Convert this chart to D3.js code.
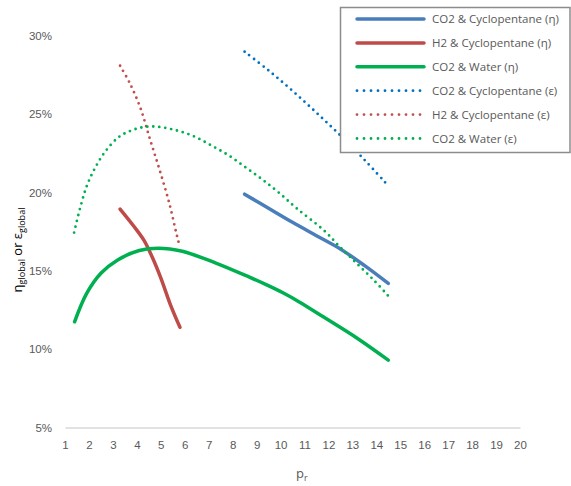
<!DOCTYPE html>
<html>
<head>
<meta charset="utf-8">
<script src="https://cdn.jsdelivr.net/npm/d3@7"></script>
<style>
  body { margin: 0; background: #fff; }
  svg { font-family: "Open Sans", "Liberation Sans", sans-serif; }
  .tick text { fill: #595959; font-size: 11.5px; }
</style>
</head>
<body>
<svg width="571" height="486"></svg>
<script>
// CO2 & Cyclopentane
const co2CpEtaX = [8.5, 9.5, 10.5, 11.5, 12.5, 13.5, 14.5]
const co2CpEtaY = [19.9, 19.0, 18.1, 17.25, 16.4, 15.35, 14.2]
const co2CpEpsX = [8.5, 9.5, 10.5, 11.5, 12.5, 13.5, 14.4]
const co2CpEpsY = [29.0, 27.8, 26.5, 25.1, 23.65, 22.1, 20.6]
// H2 & Cyclopentane
const h2CpEtaX = [3.3, 3.85, 4.3, 4.65, 5.0, 5.4, 5.8]
const h2CpEtaY = [18.95, 17.9, 16.95, 15.85, 14.55, 12.85, 11.4]
const h2CpEpsX = [3.3, 3.7, 4.15, 4.55, 4.95, 5.35, 5.65, 5.75]
const h2CpEpsY = [28.1, 27.0, 25.4, 23.4, 21.45, 19.35, 17.4, 16.8]
// CO2 & Water
const co2WEtaX = [1.4, 1.9, 2.5, 3.2, 4.1, 4.9, 5.9, 7.3, 8.7, 9.4, 10.1, 10.8, 11.8, 13.2, 14.5]
const co2WEtaY = [11.75, 13.55, 14.85, 15.7, 16.3, 16.45, 16.25, 15.5, 14.6, 14.12, 13.6, 13.0, 12.05, 10.7, 9.3]
const co2WEpsX = [1.38, 1.63, 1.9, 2.23, 2.67, 3.23, 3.71, 4.24, 4.83, 5.59, 6.36, 7.12, 7.85, 8.54, 9.21, 9.88, 10.67, 11.8, 12.5, 13.2, 13.9, 14.5]
const co2WEpsY = [17.45, 19.0, 20.38, 21.5, 22.6, 23.53, 23.93, 24.17, 24.21, 24.0, 23.61, 23.0, 22.36, 21.61, 20.87, 20.06, 19.0, 17.6, 16.5, 15.45, 14.4, 13.4]

const xTicks = d3.range(1, 21)
const yTicks = [5, 10, 15, 20, 25, 30]

const series = [
  {name: "CO2 & Cyclopentane (η)", xs: co2CpEtaX, ys: co2CpEtaY, color: "#4a7ebb", dotted: false},
  {name: "H2 & Cyclopentane (η)", xs: h2CpEtaX, ys: h2CpEtaY, color: "#be4b48", dotted: false},
  {name: "CO2 & Water (η)", xs: co2WEtaX, ys: co2WEtaY, color: "#00b050", dotted: false},
  {name: "CO2 & Cyclopentane (ε)", xs: co2CpEpsX, ys: co2CpEpsY, color: "#0070c0", dotted: true},
  {name: "H2 & Cyclopentane (ε)", xs: h2CpEpsX, ys: h2CpEpsY, color: "#c0504d", dotted: true},
  {name: "CO2 & Water (ε)", xs: co2WEpsX, ys: co2WEpsY, color: "#00b050", dotted: true}
]

const svg = d3.select("svg")
const x = d3.scaleLinear().domain([1, 20]).range([65, 520])
const y = d3.scaleLinear().domain([5, 30]).range([427.5, 36])

// x axis
const xAxis = svg.append("g")
  .attr("transform", "translate(0," + y(5) + ")")
  .call(d3.axisBottom(x).tickValues(xTicks).tickSize(0).tickPadding(13).tickFormat(d3.format("d")))
xAxis.select(".domain").attr("stroke", "#d9d9d9").attr("stroke-width", 1.5)

// y axis (labels only)
const yAxis = svg.append("g")
  .attr("transform", "translate(" + 58 + ",0)")
  .call(d3.axisLeft(y).tickValues(yTicks).tickSize(0).tickPadding(6).tickFormat(d => d + "%"))
yAxis.select(".domain").remove()

const line = d3.line()
  .x(d => x(d[0]))
  .y(d => y(d[1]))
  .curve(d3.curveCatmullRom.alpha(0.5))

svg.append("g").selectAll("path")
  .data(series)
  .enter().append("path")
  .attr("d", s => line(s.xs.map((v, i) => [v, s.ys[i]])))
  .attr("fill", "none")
  .attr("stroke", s => s.color)
  .attr("stroke-width", s => s.dotted ? 2.8 : 3.5)
  .attr("stroke-linecap", "round")
  .attr("stroke-linejoin", "round")
  .attr("stroke-dasharray", s => s.dotted ? "0 6" : null)

// axis titles
svg.append("text")
  .attr("transform", "translate(22,250) rotate(-90)")
  .attr("text-anchor", "middle")
  .attr("font-size", 13)
  .attr("fill", "#000")
  .html('η<tspan font-size="9" dy="3">global</tspan><tspan dy="-3"> or ε</tspan><tspan font-size="9" dy="3">global</tspan>')

svg.append("text")
  .attr("x", 296)
  .attr("y", 478)
  .attr("font-size", 13)
  .attr("fill", "#595959")
  .html('p<tspan font-size="9" dy="3">r</tspan>')

// legend
const legend = svg.append("g")
legend.append("rect")
  .attr("x", 340.5).attr("y", 7.5)
  .attr("width", 229.5).attr("height", 145)
  .attr("fill", "#fff")
  .attr("stroke", "#8c8c8c")
  .attr("stroke-width", 1.5)

const rows = legend.selectAll("g.row")
  .data(series)
  .enter().append("g")
  .attr("class", "row")
  .attr("transform", (d, i) => "translate(0," + (19 + i * 23.9) + ")")

rows.append("line")
  .attr("x1", 357).attr("x2", 424)
  .attr("stroke", s => s.color)
  .attr("stroke-width", s => s.dotted ? 2.8 : 3.5)
  .attr("stroke-linecap", "round")
  .attr("stroke-dasharray", s => s.dotted ? "0 7" : null)

rows.append("text")
  .attr("x", 432)
  .attr("dy", "0.35em")
  .attr("font-size", 11.5)
  .attr("fill", "#595959")
  .text(s => s.name)
</script>
</body>
</html>
